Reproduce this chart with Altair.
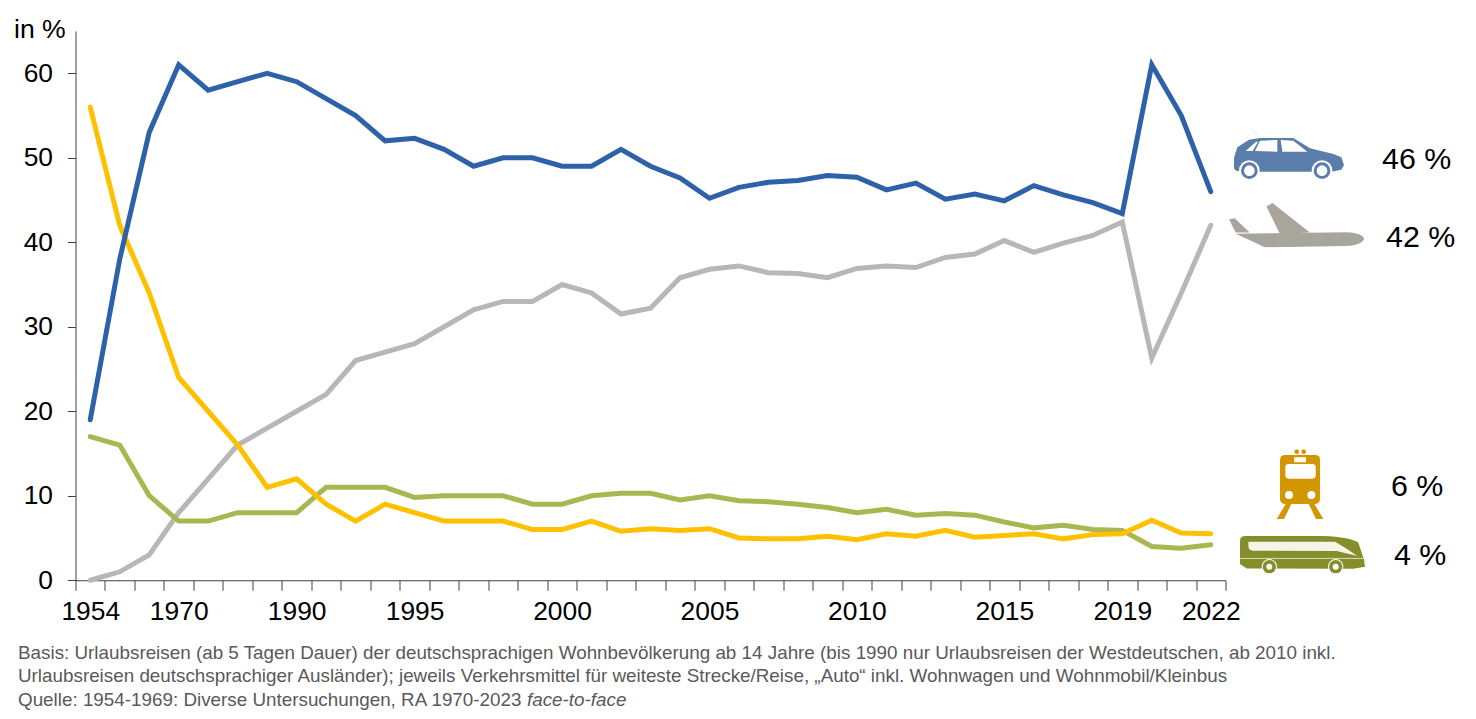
import json
import urllib.parse
import altair as alt
import pandas as pd

years = ["1954","1961","1965","1970","1975","1980","1985","1990","1992","1993","1994",
         "1995","1996","1997","1998","1999","2000","2001","2002","2003","2004","2005",
         "2006","2007","2008","2009","2010","2011","2012","2013","2014","2015","2016",
         "2017","2018","2019","2020","2021","2022"]
shown_years = ["1954","1970","1990","1995","2000","2005","2010","2015","2019","2022"]
y_ticks = [0, 10, 20, 30, 40, 50, 60]

auto = [19,38,53,61,58,59,60,59,57,55,52,52.3,51,49,50,50,49,49,51,49,47.6,45.2,46.5,47.1,
        47.3,47.9,47.7,46.2,47,45.1,45.7,44.9,46.7,45.6,44.7,43.4,61,55,46]
flug = [0,1,3,8,12,16,18,20,22,26,27,28,30,32,33,33,35,34,31.5,32.2,35.8,36.8,37.2,36.4,
        36.3,35.8,36.9,37.2,37,38.2,38.6,40.2,38.8,39.9,40.8,42.4,26.3,34,42]
bahn = [56,42,34,24,20,16,11,12,9,7,9,8,7,7,7,6,6,7,5.8,6.1,5.9,6.1,5,4.9,4.9,5.2,4.8,5.5,
        5.2,5.9,5.1,5.3,5.5,4.9,5.4,5.5,7.1,5.6,5.5]
bus = [17,16,10,7,7,8,8,8,11,11,11,9.8,10,10,10,9,9,10,10.3,10.3,9.5,10,9.4,9.3,9,8.6,8,
       8.4,7.7,7.9,7.7,6.9,6.2,6.5,6,5.9,4,3.8,4.2]

FONT = "Liberation Sans"
W, H = 1150, 549.25
X0, Y0 = 75.5, 31


def px(x):
    return alt.value(x - X0)


def py(y):
    return alt.value(y - Y0)


def series(values, color):
    df = pd.DataFrame({"Jahr": years, "Anteil": values})
    return alt.Chart(df).mark_line(color=color, strokeWidth=5, strokeCap="round").encode(
        x=alt.X("Jahr:O"), y=alt.Y("Anteil:Q"))


x_enc_axis = alt.Chart(pd.DataFrame({"Jahr": years, "Anteil": auto})).mark_line(opacity=0).encode(
    x=alt.X("Jahr:O", title=None,
            scale=alt.Scale(type="band", domain=years, paddingInner=0, paddingOuter=0),
            axis=alt.Axis(tickBand="extent", labelExpr=f"indexof({json.dumps(shown_years)}, datum.value) >= 0 ? datum.value : ''",
                          labelAngle=0, labelOverlap=False, labelBound=False, labelFlush=False,
                          tickSize=10, tickColor="#404040", domainColor="#404040", tickWidth=1,
                          domainWidth=1, labelFont=FONT, labelFontSize=26.4, labelColor="#000000",
                          labelPadding=8, grid=False)),
    y=alt.Y("Anteil:Q", title=None,
            scale=alt.Scale(domain=[0, 65], nice=False, zero=True),
            axis=alt.Axis(values=y_ticks, tickSize=8, tickColor="#404040", domainColor="#404040",
                          tickWidth=1, domainWidth=1, labelFont=FONT, labelFontSize=26.4,
                          labelColor="#000000", labelPadding=15, grid=False)))


def text(s, x, y, size, color="#000000", align="left", style="normal"):
    return alt.Chart(alt.Data(values=[{}])).mark_text(
        text=s, font=FONT, fontSize=size, color=color, align=align, baseline="middle",
        fontStyle=style).encode(x=px(x), y=py(y))


def icon(svg_body, x, y, w, h, vw, vh):
    svg = (f'<svg xmlns="http://www.w3.org/2000/svg" width="{w}" height="{h}" '
           f'viewBox="0 0 {vw} {vh}">{svg_body}</svg>')
    uri = "data:image/svg+xml," + urllib.parse.quote(svg)
    return alt.Chart(alt.Data(values=[{}])).mark_image(
        url=uri, width=w, height=h, align="left", baseline="top").encode(x=px(x), y=py(y))


car_c = "#5B7DAB"
car_svg = f'''
<path d="M52 0 L78 30" stroke="#c5d2e2" stroke-width="1.5"/>
<path d="M0 118 L0 86 L10 55 L45 32 L78 27 L178 27 L228 58 L298 75 L322 85 L330 108 L322 122 L292 128 L38 128 L6 125 Z" fill="{car_c}"/>
<path d="M35 66 L66 38 L72 38 L56 66 Z M78 35 L130 33 L130 68 L63 66 Z M140 33 L178 35 L220 68 L145 68 Z" fill="#fff"/>
<circle cx="46" cy="125" r="31" fill="#fff"/><circle cx="46" cy="125" r="25" fill="{car_c}"/><circle cx="46" cy="125" r="16" fill="#fff"/>
<circle cx="264" cy="125" r="31" fill="#fff"/><circle cx="264" cy="125" r="25" fill="{car_c}"/><circle cx="264" cy="125" r="16" fill="#fff"/>
'''
plane_c = "#A8A69C"
plane_svg = f'''
<path d="M0 48 L17 45 L62 88 L20 88 Z" fill="{plane_c}"/>
<path d="M112 10 L130 0 L242 88 L152 92 Z" fill="{plane_c}"/>
<path d="M20 92 L352 87 C385 88 404 98 404 106 C404 118 380 128 352 128 L107 132 Z" fill="{plane_c}"/>
'''
train_c = "#D29600"
train_svg = f'''
<rect x="10" y="17" width="120" height="147" rx="14" fill="{train_c}"/>
<circle cx="60" cy="7" r="7" fill="{train_c}"/><circle cx="81" cy="7" r="7" fill="{train_c}"/>
<rect x="52" y="24" width="36" height="15" rx="2" fill="#fff"/>
<rect x="26" y="44" width="91" height="44" rx="10" fill="#fff"/>
<circle cx="37" cy="137" r="12" fill="#fff"/><circle cx="104" cy="137" r="12" fill="#fff"/>
<path d="M27 164 L0 209 L22 209 L44 164 Z M113 164 L140 209 L118 209 L96 164 Z" fill="{train_c}"/>
'''
bus_c = "#848E2B"
bus_svg = f'''
<path d="M0 14 Q0 0 16 0 L250 0 Q330 3 355 20 L372 70 L375 92 L340 98 L20 97 L0 84 Z" fill="{bus_c}"/>
<path d="M25 17 L285 17 Q320 36 352 60 L290 45 L38 44 Q25 42 25 30 Z" fill="#f4f4e8"/>
<path d="M0 67 L372 67" stroke="#d9dcb8" stroke-width="3"/>
<circle cx="88" cy="92" r="23" fill="#fff"/><circle cx="88" cy="92" r="20" fill="{bus_c}"/><circle cx="88" cy="92" r="9" fill="#fff"/>
<circle cx="287" cy="92" r="23" fill="#fff"/><circle cx="287" cy="92" r="20" fill="{bus_c}"/><circle cx="287" cy="92" r="9" fill="#fff"/>
'''

layers = [
    x_enc_axis,
    series(flug, "#B7B7B7"),
    series(bus, "#A9B750"),
    series(bahn, "#FFC000"),
    series(auto, "#2E62A8"),
    text("in %", 14, 30, 26.6),
    text("46 %", 1382, 160, 30.4),
    text("42 %", 1386, 238, 30.4),
    text("6 %", 1391, 487, 30.4),
    text("4 %", 1394, 556, 30.4),
    text("Basis: Urlaubsreisen (ab 5 Tagen Dauer) der deutschsprachigen Wohnbevölkerung ab 14 Jahre (bis 1990 nur Urlaubsreisen der Westdeutschen, ab 2010 inkl.", 18, 653, 18.83, "#595959"),
    text("Urlaubsreisen deutschsprachiger Ausländer); jeweils Verkehrsmittel für weiteste Strecke/Reise, „Auto“ inkl. Wohnwagen und Wohnmobil/Kleinbus", 18, 676, 18.83, "#595959"),
    text("Quelle: 1954-1969: Diverse Untersuchungen, RA 1970-2023 ", 18, 700, 18.83, "#595959"),
    text("face-to-face", 527, 700, 18.83, "#595959", style="italic"),
    icon(car_svg, 1234, 129, 110, 52, 330, 156),
    icon(plane_svg, 1229, 203, 135, 45, 404, 134),
    icon(train_svg, 1276.7, 449.3, 46.67, 70, 140, 210),
    icon(bus_svg, 1240, 536, 125, 37.5, 375, 112),
]

chart = alt.layer(*layers).properties(
    width=W, height=H,
    autosize="none",
    padding={"left": 67.5, "top": 23, "right": 240, "bottom": 130},
    background="#ffffff",
).configure_view(stroke=None)

chart.save("out.html", embed_options={"renderer": "svg", "actions": False})
